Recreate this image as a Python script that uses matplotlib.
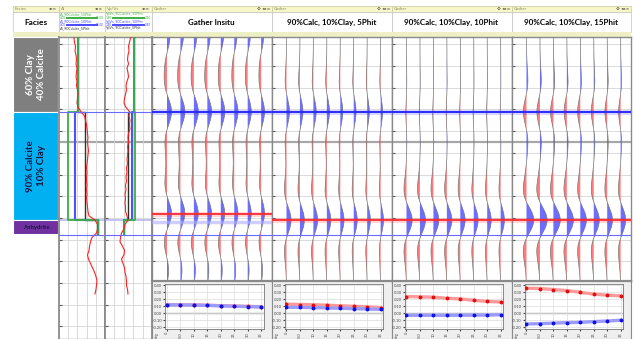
import numpy as np
import matplotlib.pyplot as plt
from matplotlib.patches import Rectangle

plt.rcParams['font.family'] = ['Lato', 'DejaVu Sans']

W, H = 635, 339
fig = plt.figure(figsize=(W / 100, H / 100), dpi=100)

# time window (ms)
T0, T_LOG_END, T_GATHER_END = 951.6, 1090.8, 1064.1
grid_minor = np.arange(955, 1090, 10)
grid_major = [1000]

# facies column
facies_names = ['60% Clay\n40% Calcite', '90% Calcite\n10% Clay', 'Anhydrite']
facies_top = [951.6, 986.0, 1036.0]
facies_base = [986.0, 1036.0, 1042.5]
facies_colors = ['#7f7f7f', '#00b0f0', '#7030a0']
facies_text_colors = ['white', '#141440', '#1a1a3a']

# in-situ logs, sampled every 2 ms
log_time = np.arange(952, 1072, 2)
ai_insitu = [7.26, 7.37, 7.59, 7.48, 7.70, 7.80, 7.70, 7.91, 7.80, 7.70,
             7.91, 7.80, 8.02, 8.13, 8.02, 7.91, 8.13, 8.78, 9.54, 9.76,
             9.98, 10.09, 10.20, 10.30, 10.20, 10.30, 10.41, 10.30, 10.20, 10.09,
             9.98, 10.09, 9.98, 9.98, 10.09, 9.98, 10.09, 9.98, 10.09, 10.20,
             10.30, 10.52, 11.83, 12.37, 12.37, 12.15, 11.17, 10.85, 10.63, 10.52,
             10.20, 10.41, 10.85, 11.28, 11.72, 12.04, 12.26, 12.15, 12.04, 11.83]
vpvs_insitu = [1.943, 1.921, 1.900, 1.911, 1.889, 1.879, 1.900, 1.868, 1.889, 1.900,
               1.868, 1.847, 1.857, 1.836, 1.815, 1.804, 1.847, 1.921, 1.911, 1.932,
               1.921, 1.932, 1.900, 1.889, 1.900, 1.879, 1.889, 1.879, 1.868, 1.879,
               1.857, 1.868, 1.847, 1.857, 1.836, 1.847, 1.826, 1.836, 1.826, 1.836,
               1.836, 1.868, 1.889, 1.826, 1.804, 1.751, 1.730, 1.719, 1.772, 1.815,
               1.804, 1.751, 1.783, 1.815, 1.826, 1.847, 1.857, 1.857, 1.879, 1.889]

# model logs per layer (shale, carbonate, anhydrite)
layer_bounds = [951.6, 986.0, 1036.0, 1042.5]
ai_5phit = [8.13, 9.65, 12.48]
ai_10phit = [8.13, 7.48, 12.48]
ai_15phit = [8.13, 5.96, 12.48]
vpvs_5phit = [2.017, 1.889, 1.804]
vpvs_10phit = [2.017, 1.964, 1.804]
vpvs_15phit = [2.017, 2.038, 1.804]

# AVO amplitudes (blue = top horizon, red = base horizon)
angles = [0, 5, 10, 15, 20, 25, 30, 35]
angle_labels = ['0', '5.0', '10', '15', '20', '25', '30', '35']
panel_titles = ['Gather Insitu', '90%Calc, 10%Clay, 5Phit',
                '90%Calc, 10%Clay, 10Phit', '90%Calc, 10%Clay, 15Phit']
top_insitu = [0.120, 0.118, 0.117, 0.112, 0.106, 0.100, 0.095, 0.090]
base_insitu = [0.124, 0.121, 0.120, 0.115, 0.109, 0.103, 0.098, 0.093]
top_5phit = [0.085, 0.085, 0.080, 0.076, 0.071, 0.066, 0.060, 0.055]
base_5phit = [0.130, 0.125, 0.121, 0.115, 0.106, 0.100, 0.091, 0.081]
top_10phit = [-0.030, -0.030, -0.030, -0.030, -0.029, -0.028, -0.027, -0.022]
base_10phit = [0.240, 0.235, 0.230, 0.215, 0.205, 0.185, 0.170, 0.160]
top_15phit = [-0.155, -0.150, -0.142, -0.136, -0.131, -0.121, -0.112, -0.101]
base_15phit = [0.360, 0.355, 0.340, 0.325, 0.300, 0.275, 0.260, 0.250]
# extra in-situ reflections above and below
shallow_insitu = [0.080, 0.080, 0.078, 0.076, 0.074, 0.072, 0.070, 0.068]
deep_insitu = [0.050, 0.050, 0.049, 0.048, 0.047, 0.046, 0.045, 0.044]

top_time = 986.0
base_times = [1033.2, 1036.0, 1036.0, 1036.0]
anhy_base_time = 1042.8


def px_axes(x0, y0, x1, y1, **kw):
    return fig.add_axes([x0 / W, 1 - y1 / H, (x1 - x0) / W, (y1 - y0) / H], **kw)


def ricker(tau, f=27.0):
    a = (np.pi * f * tau / 1000.0) ** 2
    return (1 - 2 * a) * np.exp(-a)


def time_grid(ax, t_end):
    for t in grid_minor:
        ax.axhline(t, color='#d4d4d4', lw=0.6, zorder=0)
    for t in grid_major:
        ax.axhline(t, color='#a8a8a8', lw=1.6, zorder=0)
    ax.set_yticks([t for t in grid_minor if t < t_end])
    ax.set_ylim(t_end, T0)
    ax.tick_params(axis='y', length=2, direction='in', color='#555555', labelleft=False)
    ax.tick_params(axis='x', length=0, labelbottom=False)
    for s in ax.spines.values():
        s.set_color('#8a8a8a')
        s.set_linewidth(1.0)


def layer_curve(vals):
    xs, ys = [], []
    for k, v in enumerate(vals):
        xs += [v, v]
        ys += [layer_bounds[k], layer_bounds[k + 1]]
    return xs, ys


# ---------------- header ----------------
tracks_px = [(13, 59), (59, 105), (105, 152), (152, 271.5), (271.5, 391.5),
             (391.5, 511.5), (511.5, 631)]
strip_labels = ['Facies', 'AI', 'Vp/Vs', 'Gather', 'Gather', 'Gather', 'Gather']
hdr = px_axes(0, 0, W, 37)
hdr.set_xlim(0, W)
hdr.set_ylim(37, 0)
hdr.axis('off')
for k, (x0, x1) in enumerate(tracks_px):
    hdr.add_patch(Rectangle((x0, 6), x1 - x0, 6, fc='#f6f6c6', ec='#c9c9a0', lw=0.5))
    hdr.add_patch(Rectangle((x0, 12), x1 - x0, 20, fc='white', ec='#c4c4c4', lw=0.5))
    hdr.add_patch(Rectangle((x0, 32), x1 - x0, 5, fc='#efefc6', ec='none'))
    hdr.text(x0 + 2, 9.2, strip_labels[k], fontsize=3.2, color='#8a8a6a', va='center')
    icons = '⚙ ◂▸×' if k >= 3 else '◂▸×'
    hdr.text(x1 - 1.5, 9.2, icons, fontsize=3.2, color='#333333', va='center', ha='right',
             family='DejaVu Sans')
hdr.text(36, 22.5, 'Facies', fontsize=6, fontweight='bold', ha='center', va='center')
for k, title in enumerate(panel_titles):
    x0, x1 = tracks_px[3 + k]
    hdr.text((x0 + x1) / 2, 22.5, title, fontsize=5.8, fontweight='bold',
             ha='center', va='center')

# tiny legends of the log tracks
log_legends = [
    (59, 105, ['AI_90Calcite_15Phit', 'AI_90Calcite_10Phit',
               'AI_90Calcite_5Phit'], ('4.00', '14.00')),
    (105, 152, ['VpVs_90Calcite_15Phit', 'VpVs_90Calcite_10Phit',
                'VpVs_90Calcite_5Phit'], ('1.40', '2.40')),
]
for x0, x1, names, ends in log_legends:
    for j, (name, col) in enumerate(zip(names, ['#3cb043', '#4a4aff', '#333333'])):
        yy = 14.5 + j * 7
        hdr.text(x0 + 1, yy, name, fontsize=2.6, color=col, va='center')
        if j < 2:
            hdr.plot([x0 + 8, x1 - 8], [yy + 3.2, yy + 3.2], color=col, lw=1.4)
            hdr.text(x0 + 1, yy + 3.2, ends[0], fontsize=2.2, color=col, va='center')
            hdr.text(x1 - 1, yy + 3.2, ends[1], fontsize=2.2, color=col, va='center', ha='right')

# ---------------- facies column ----------------
axf = px_axes(13, 37, 59, 339)
axf.set_xlim(0, 1)
axf.set_ylim(T_LOG_END, T0)
axf.axis('off')
for name, tp, bs, col, tc in zip(facies_names, facies_top, facies_base,
                                 facies_colors, facies_text_colors):
    axf.barh((tp + bs) / 2, 0.98, height=bs - tp, left=0, color=col,
             edgecolor='white', lw=0.8)
    if name == 'Anhydrite':
        axf.text(0.5, (tp + bs) / 2, name, fontsize=4.3, fontweight='bold', color=tc,
                 ha='center', va='center')
    else:
        axf.text(0.5, (tp + bs) / 2, name, fontsize=7, fontweight='bold', color=tc,
                 ha='center', va='center', rotation=90, linespacing=1.15)

# ---------------- log tracks ----------------
log_specs = [
    (59, 105, (4, 14), np.arange(6, 14, 2), ai_insitu, [ai_5phit, ai_10phit, ai_15phit]),
    (105, 152, (1.4, 2.4), np.arange(1.6, 2.4, 0.2), vpvs_insitu,
     [vpvs_5phit, vpvs_10phit, vpvs_15phit]),
]
for x0, x1, xlim, vgrid, insitu, models in log_specs:
    ax = px_axes(x0, 37, x1, 339)
    ax.set_xlim(*xlim)
    time_grid(ax, T_LOG_END)
    for v in vgrid:
        ax.axvline(v, color='#d4d4d4', lw=0.6, zorder=0)
    for vals, col, lw in zip(models, ['#303030', '#5050ff', '#3cb043'], [1.0, 1.5, 1.3]):
        xs, ys = layer_curve(vals)
        ax.plot(xs, ys, color=col, lw=lw, zorder=3)
    ax.plot(insitu, log_time, color='#ff2020', lw=0.8, zorder=4)
    ax.axhline(top_time, color='#6a6aff', lw=0.8, zorder=5)
    ax.axhline(1036.0, color='#b8b8f2', lw=1.2, zorder=2)
    ax.axhline(anhy_base_time, color='#6a6aff', lw=0.8, zorder=5)
    for s in ['left', 'right']:
        ax.spines[s].set_linewidth(1.3)

# ---------------- gathers ----------------
tops = [top_insitu, top_5phit, top_10phit, top_15phit]
bases = [base_insitu, base_5phit, base_10phit, base_15phit]
gains = [2.8, 2.6, 1.75, 1.5]
t = np.linspace(T0, T_GATHER_END, 700)

for k in range(4):
    x0, x1 = tracks_px[3 + k]
    ax = px_axes(x0, 37, x1, 281)
    ax.set_xlim(-15 / 13.45, (x1 - x0 - 15) / 13.45)
    time_grid(ax, T_GATHER_END)
    for i in range(len(angles)):
        s = tops[k][i] * ricker(t - top_time) + bases[k][i] * ricker(t - base_times[k])
        if k == 0:
            s = s + shallow_insitu[i] * ricker(t - 951.0) + deep_insitu[i] * ricker(t - 1058.0)
        x = i + gains[k] * s
        ax.fill_betweenx(t, i, x, where=x >= i, interpolate=True, color='#4848ff',
                         alpha=0.8, lw=0, zorder=2)
        ax.fill_betweenx(t, i, x, where=x < i, interpolate=True, color='#ff5050',
                         alpha=0.75, lw=0, zorder=2)
        ax.plot(x, t, color='#777777', lw=0.5, zorder=3)
    ax.axhline(top_time, color='#2a2aff', lw=3.5, alpha=0.2, zorder=4)
    ax.axhline(top_time, color='#2a2aff', lw=1.4, zorder=5)
    ax.axhline(base_times[k], color='#ff2a2a', lw=3.5, alpha=0.2, zorder=4)
    ax.axhline(base_times[k], color='#ff2a2a', lw=1.3, zorder=5)
    if k == 0:
        ax.axhline(1036.9, color='#b0b0ff', lw=2.5, alpha=0.6, zorder=4)
    ax.axhline(anhy_base_time, color='#6a6aff', lw=0.8, zorder=5)

    # AVO plot below the gather
    bg = px_axes(x0, 281, x1, 339)
    bg.set_facecolor('#efefef')
    bg.set_xticks([])
    bg.set_yticks([])
    for s in bg.spines.values():
        s.set_color('#8a8a8a')
    bg.spines['top'].set_linewidth(1.6)

    av = px_axes(x0 + 13, 283.5, x0 + 111.5, 329)
    av.set_xlim(-0.74, 35.87)
    av.set_ylim(-0.227, 0.427)
    av.set_yticks([-0.2, -0.1, 0.0, 0.1, 0.2, 0.3, 0.4])
    av.set_yticklabels(['%.2f' % v for v in [-0.2, -0.1, 0.0, 0.1, 0.2, 0.3, 0.4]])
    av.set_xticks(angles)
    av.set_xticklabels(angle_labels, rotation=90)
    av.tick_params(labelsize=2.9, length=1.2, pad=0.8, colors='#444444')
    av.grid(True, color='#dcdcdc', lw=0.5)
    av.axhline(0, color='#a0a0a0', lw=1.0, zorder=1)
    for s in av.spines.values():
        s.set_color('#777777')
        s.set_linewidth(0.6)
    av.plot(angles, bases[k], color='#ff9a9a', lw=2.4, zorder=2)
    av.plot(angles, bases[k], 'o', color='#e01010', ms=1.8, zorder=3)
    av.plot(angles, tops[k], color='#9a9aff', lw=2.4, zorder=2)
    av.plot(angles, tops[k], 'o', color='#1010e0', ms=1.8, zorder=3)
    bg.text(5 / (x1 - x0), 0.02, 'deg', transform=bg.transAxes, fontsize=2.6,
            rotation=90, color='#444444', va='bottom', ha='center')

fig.savefig('out.png', dpi=100)
